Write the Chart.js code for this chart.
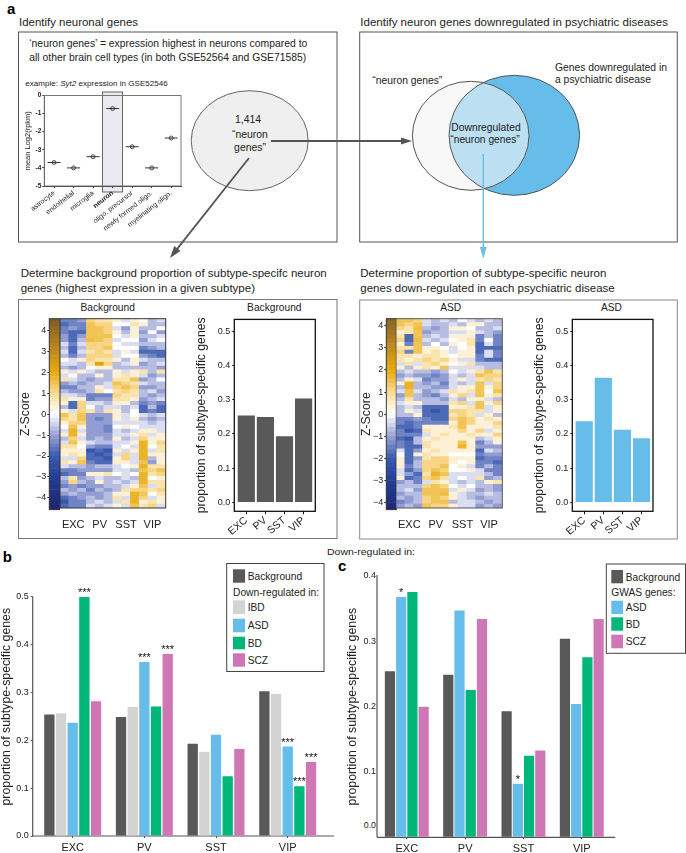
<!DOCTYPE html>
<html>
<head>
<meta charset="utf-8">
<title>Neuron subtype genes</title>
<script src="https://cdn.jsdelivr.net/npm/chart.js@4"></script>
<style>
  html, body { margin: 0; padding: 0; background: #fff; }
  #page { position: relative; width: 686px; height: 853px; overflow: hidden; }
  #page svg { position: absolute; left: 0; top: 0; }
  #page canvas { position: absolute; }
  #heatL, #heatR { filter: blur(0.4px); }
  text { font-family: "Liberation Sans", Arial, sans-serif; fill: #222; }
  .h { font-size: 11.3px; }
  .n { font-size: 10.4px; }
  .lg { font-size: 10.2px; }
  .pl { font-size: 15px; font-weight: bold; fill: #000; }
  .sub { font-size: 10.2px; }
</style>
</head>
<body>
<div id="page">
<svg width="686" height="853">
  <defs>
    <clipPath id="leftCirc"><ellipse cx="470.7" cy="135.8" rx="58.3" ry="54.5"/></clipPath>
  </defs>

  <!-- panel a boxes -->
  <rect x="18.5" y="32" width="318.5" height="210" fill="none" stroke="#555"/>
  <rect x="359.7" y="32" width="317.6" height="210" fill="none" stroke="#555"/>
  <rect x="18.5" y="299.5" width="318.5" height="239" fill="none" stroke="#777"/>
  <rect x="359.7" y="300" width="317.6" height="239" fill="none" stroke="#888"/>

  <text class="pl" x="7" y="13.5">a</text>
  <text class="pl" x="2.7" y="561.5">b</text>
  <text class="pl" x="338" y="570.5">c</text>

  <text class="h" x="19" y="26" textLength="119" lengthAdjust="spacingAndGlyphs">Identify neuronal genes</text>
  <text class="h" x="360.3" y="26" textLength="307.7" lengthAdjust="spacingAndGlyphs">Identify neuron genes downregulated in psychiatric diseases</text>
  <text class="n" x="29.3" y="46.7" textLength="278" lengthAdjust="spacingAndGlyphs">‘neuron genes’ = expression highest in neurons compared to</text>
  <text class="n" x="29.3" y="60.7" textLength="277" lengthAdjust="spacingAndGlyphs">all other brain cell types (in both GSE52564 and GSE71585)</text>
  <text x="25.3" y="86" style="font-size:7.6px" textLength="142.4" lengthAdjust="spacingAndGlyphs">example: <tspan font-style="italic">Syt2</tspan> expression in GSE52546</text>

  <!-- highlight behind the neuron column -->
  <rect x="102.5" y="92" width="20" height="100" fill="#ebebef" stroke="#666" stroke-width="1"/>

  <!-- neuron genes set -->
  <ellipse cx="249.7" cy="140.7" rx="58.5" ry="50" fill="#efefef" stroke="#666"/>
  <text class="n" x="248" y="122.5" text-anchor="middle">1,414</text>
  <text class="n" x="250" y="138" text-anchor="middle">“neuron</text>
  <text class="n" x="250" y="150.5" text-anchor="middle">genes”</text>

  <!-- venn -->
  <ellipse cx="514.3" cy="135.3" rx="65.3" ry="60" fill="#67bde9" stroke="#555"/>
  <ellipse cx="470.7" cy="135.8" rx="58.3" ry="54.5" fill="#f8f8f8"/>
  <ellipse cx="514.3" cy="135.3" rx="65.3" ry="60" fill="#bcdff2" stroke="#555" clip-path="url(#leftCirc)"/>
  <ellipse cx="470.7" cy="135.8" rx="58.3" ry="54.5" fill="none" stroke="#555"/>
  <text class="n" x="372.3" y="84" textLength="70" lengthAdjust="spacingAndGlyphs">“neuron genes”</text>
  <text class="n" x="555" y="71.3" textLength="112" lengthAdjust="spacingAndGlyphs">Genes downregulated in</text>
  <text class="n" x="555" y="83.3" textLength="96" lengthAdjust="spacingAndGlyphs">a psychiatric disease</text>
  <text class="n" x="451.3" y="131" textLength="69.4" lengthAdjust="spacingAndGlyphs">Downregulated</text>
  <text class="n" x="450.3" y="143" textLength="69.4" lengthAdjust="spacingAndGlyphs">“neuron genes”</text>

  <!-- arrows -->
  <line x1="271" y1="141" x2="402" y2="141" stroke="#555" stroke-width="1.8"/>
  <polygon points="412,141 401,137.5 401,144.5" fill="#555"/>
  <line x1="249" y1="158" x2="176" y2="250.4" stroke="#555" stroke-width="1.8"/>
  <polygon points="170,258 180.5,251 174.3,246.1" fill="#555"/>
  <line x1="483.3" y1="154" x2="483.3" y2="248" stroke="#69bfea" stroke-width="1.5"/>
  <polygon points="483.3,258.5 479.8,247 486.8,247" fill="#69bfea"/>

  <!-- row two headings -->
  <text class="h" x="20.7" y="277.3" textLength="306" lengthAdjust="spacingAndGlyphs">Determine background proportion of subtype-specifc neuron</text>
  <text class="h" x="20.7" y="291.7" textLength="234.3" lengthAdjust="spacingAndGlyphs">genes (highest expression in a given subtype)</text>
  <text class="h" x="360.3" y="277.3" textLength="246" lengthAdjust="spacingAndGlyphs">Determine proportion of subtype-specific neuron</text>
  <text class="h" x="360.3" y="291.7" textLength="254.4" lengthAdjust="spacingAndGlyphs">genes down-regulated in each psychiatric disease</text>
  <text class="sub" x="107.7" y="310.5" text-anchor="middle">Background</text>
  <text class="sub" x="274.3" y="310.5" text-anchor="middle">Background</text>
  <text class="sub" x="450.7" y="310.5" text-anchor="middle">ASD</text>
  <text class="sub" x="611.5" y="310.5" text-anchor="middle">ASD</text>

  <text x="327" y="555" style="font-size:8.2px" textLength="88" lengthAdjust="spacingAndGlyphs">Down-regulated in:</text>

  <!-- extended axis lines of panels b and c -->
  <line x1="32.7" y1="597" x2="32.7" y2="836" stroke="#555" stroke-width="1.2"/>
  <line x1="32.7" y1="836" x2="334" y2="836" stroke="#555" stroke-width="1.2"/>
  <line x1="377" y1="575" x2="377" y2="837.3" stroke="#555" stroke-width="1.2"/>
  <line x1="377" y1="837.3" x2="615.3" y2="837.3" stroke="#555" stroke-width="1.2"/>
  <text x="376" y="828" text-anchor="end" style="font-size:8.8px">0.0</text>

  <!-- legend b -->
  <rect x="226.7" y="563.5" width="97.3" height="108" fill="#fff" stroke="#444"/>
  <rect x="233" y="569.3" width="12" height="13.4" fill="#595959"/>
  <text class="lg" x="247.7" y="580">Background</text>
  <text class="lg" x="233" y="595.7" textLength="86" lengthAdjust="spacingAndGlyphs">Down-regulated in:</text>
  <rect x="233" y="600.3" width="12" height="13.7" fill="#d3d3d3"/>
  <text class="lg" x="247.7" y="611">IBD</text>
  <rect x="233" y="618.7" width="12" height="13.6" fill="#67bde9"/>
  <text class="lg" x="247.7" y="629.3">ASD</text>
  <rect x="233" y="636.7" width="12" height="12.6" fill="#00b679"/>
  <text class="lg" x="247.7" y="646.7">BD</text>
  <rect x="233" y="653.3" width="12" height="13.4" fill="#cf76b4"/>
  <text class="lg" x="247.7" y="664">SCZ</text>

  <!-- legend c -->
  <rect x="606.3" y="564" width="79.2" height="89.3" fill="#fff" stroke="#444"/>
  <rect x="611.3" y="570" width="11.7" height="13.3" fill="#595959"/>
  <text class="lg" x="625.7" y="580.7">Background</text>
  <text class="lg" x="611.3" y="596">GWAS genes:</text>
  <rect x="611.3" y="600.7" width="11.7" height="13.3" fill="#67bde9"/>
  <text class="lg" x="625.7" y="610.7">ASD</text>
  <rect x="611.3" y="617.3" width="11.7" height="13.4" fill="#00b679"/>
  <text class="lg" x="625.7" y="627.7">BD</text>
  <rect x="611.3" y="634.7" width="11.7" height="13.6" fill="#cf76b4"/>
  <text class="lg" x="625.7" y="645">SCZ</text>
</svg>

<canvas id="dot" style="left:10px;top:85px" width="180" height="160"></canvas>
<canvas id="barL" style="left:20px;top:312px" width="40" height="204"></canvas>
<canvas id="heatL" style="left:60px;top:312px" width="112" height="216"></canvas>
<canvas id="propL" style="left:190px;top:312px" width="135" height="224"></canvas>
<canvas id="barR" style="left:361px;top:312px" width="36" height="204"></canvas>
<canvas id="heatR" style="left:396px;top:312px" width="112" height="216"></canvas>
<canvas id="propR" style="left:528px;top:312px" width="135" height="224"></canvas>
<canvas id="panelB" style="left:0px;top:570px" width="338" height="283"></canvas>
<canvas id="panelC" style="left:345px;top:565px" width="275" height="288"></canvas>
</div>

<script>
// example expression plot
var cellTypes = ["astrocyte", "endothelial", "microglia", "neuron", "oligo. precursor", "newly formed oligo.", "myelinating oligo."];
var syt2Values = [-3.7, -4.0, -3.38, -0.72, -2.83, -4.0, -2.35];

// shared categories and ticks
var subtypes = ["EXC", "PV", "SST", "VIP"];
var heatColumns = ["", "EXC", "", "", "PV", "", "", "SST", "", "", "VIP", ""];
var propTicks = [0, 0.1, 0.2, 0.3, 0.4, 0.5];
var gwasTicks = [0, 0.1, 0.2, 0.3, 0.4];
var zTicks = [-4, -3, -2, -1, 0, 1, 2, 3, 4];
var zLevels = [-4.6, -4.4, -4.2, -4, -3.8, -3.6, -3.4, -3.2, -3, -2.8, -2.6, -2.4, -2.2, -2, -1.8, -1.6, -1.4, -1.2, -1, -0.8, -0.6, -0.4, -0.2, 0, 0.2, 0.4, 0.6, 0.8, 1, 1.2, 1.4, 1.6, 1.8, 2, 2.2, 2.4, 2.6, 2.8, 3, 3.2, 3.4, 3.6, 3.8, 4, 4.2, 4.4];

// panel b
var backgroundB = [0.254, 0.249, 0.193, 0.303];
var ibdB = [0.257, 0.270, 0.176, 0.297];
var asdB = [0.237, 0.364, 0.212, 0.187];
var bdB = [0.500, 0.271, 0.125, 0.104];
var sczB = [0.282, 0.381, 0.182, 0.155];
var asdStarsB = ["", "***", "", "***"];
var bdStarsB = ["***", "", "", "***"];
var sczStarsB = ["", "***", "", "***"];

// panel c
var backgroundC = [0.254, 0.249, 0.193, 0.304];
var asdC = [0.368, 0.347, 0.082, 0.204];
var bdC = [0.3755, 0.2255, 0.125, 0.2755];
var sczC = [0.200, 0.334, 0.133, 0.334];
var asdStarsC = ["*", "", "*", ""];

// heat maps, z-score per gene row, three columns per subtype
var backgroundRows = [
  [-2,-2,-1.5,1.5,1,1,.5,-.5,.5,0,-1,-.5],
  [-2.5,-2,-2,2,1.5,1.5,0,0,1,.5,-1,-1],
  [-2,-1.5,-2,2,2,1.5,-.5,-1.5,.5,-1,-1,0],
  [-2,-2.5,-2.5,2,2,1.5,.5,-1,.5,-1.5,0,-1.5],
  [-1.5,-2.5,-1.5,2,2,2,0,-.5,.5,-1,-1,-.5],
  [-1.5,-2.5,-1,2.2,2,1.5,-.5,0,0,-1.5,-.5,0],
  [-.5,-2,-.5,1.5,1.5,1.5,0,-.5,-.5,-1,-1,-1],
  [-1,-2.5,-1,1.5,1.5,2,0,0,0,-2,-1.5,-1],
  [-.5,-2.5,-.5,1,1.5,1,-.5,.5,-.5,-2.5,-2.5,-2.5],
  [-1,-2,-1,1.5,1.5,1.5,-.5,0,0,-1.5,-2,-2.5],
  [0,-.5,.5,1.5,1,1,.5,-1,.5,-.5,-1,-1],
  [-.5,-.5,-1,1,3,1.5,-1,-.5,.5,-1.5,-1,-.5],
  [-1,-1.5,-1,0,.5,.5,-1,-1,-1,-1,-1,-1.5],
  [.5,-.5,.5,-.5,-1,-1,.5,-.5,.5,1,-1,1],
  [-.5,0,-1,-1,.5,-1,.5,1,.5,-.5,-1.5,-1],
  [1,-.5,-1,-1.5,-1,-1,1,1,2,-1.5,-1,0],
  [-1.5,-1,-1.5,-1,-1,-.5,2,1.5,1,-.5,-1,-1],
  [-2,-2,-1,-1,.5,-.5,1.5,2,1.5,-1.5,-1.5,-1],
  [-1,-1.5,-1.5,-1,1,0,1,1.5,1,-1,-.5,-1.5],
  [-.5,-.5,-1,-2,-2,-2,1.5,1,1,-1,-1.5,-1],
  [1,.5,.5,-2,-1.5,-1.5,1,1,.5,-1.5,-1,-.5],
  [.5,-2.5,1.5,-.5,-.5,-1,.5,.5,-1,-2,-1.5,-2],
  [-1,-2.5,1.5,0,-1,-.5,-.5,-1,-.5,-2.5,-1,-2.5],
  [.5,-.5,1.5,1,-1,1,.5,-1,0,-2.5,-2,-2.5],
  [2,1,2,-1.5,-1.5,-1.5,.5,-.5,0,-.5,-1,-.5],
  [1.5,1,2,-1.5,-2,-1.5,.5,-.5,.5,-1,-1.5,-1],
  [.5,1.5,1.5,-1.5,-1.5,-1.5,-.5,-.5,-.5,-.5,-1,-.5],
  [0,2,.5,-1.5,-1.5,-2,0,.5,0,-.5,-.5,-.5],
  [-.5,2.5,-.5,-1.5,-1.5,-2,-.5,-1,-.5,.5,.5,-.5],
  [.5,2.5,.5,-1.5,-1.5,-1.5,-.5,-.5,.5,1,-.5,.5],
  [-1,1.5,-.5,-1.5,-1,-1.5,.5,-1,-.5,1.5,.5,.5],
  [-.5,2,.5,-.5,-1,-1,-.5,-.5,.5,2.5,.5,1.5],
  [1,1,0,-1.5,-2,-2,-.5,0,-.5,2.5,0,1],
  [.5,.5,.5,-3,-2.5,-3,.5,-.5,.5,2.5,-.5,1],
  [.5,1,.5,-2.5,-3,-2.5,-.5,1.5,-.5,2.5,.5,.5],
  [-.5,-.5,1.5,-2.5,-2.5,-3,.5,1.5,-.5,2.5,-1,.5],
  [1,.5,2,-2,-2.5,-2.5,.5,.5,-.5,2,-1.5,.5],
  [-.5,-1,-1,-1.5,-1,-1,-.5,0,.5,2.5,1,1],
  [-2,-2,-1.5,-1.5,-1.5,-1.5,-.5,-.5,-1,2,1.5,2],
  [-2.5,-2,-2,.5,.5,1,0,-.5,0,2.5,1,1.5],
  [-1,1,-1.5,-1,-.5,-1,-1,-.5,-1,2.5,0,.5],
  [-1.5,1.5,-1,-1.5,.5,-1,-.5,-1,-.5,2.5,1,1],
  [-2,-1.5,-2,-1.5,-1.5,-1,-1,-.5,.5,2,-.5,1],
  [-1,-1.5,-1,-2,-1,-1.5,-1,1,1.5,1.5,1,1.5],
  [-1.5,-1,-1.5,-1.5,-1.5,-1,.5,.5,2.5,2,0,1],
  [-2.5,-2,-1.5,-1,-1.5,-1,1,-.5,2.5,1.5,-.5,.5],
  [-3,-2,-2,-1,-.5,-1,-.5,1,2.5,.5,1,.5],
  [-2.5,-2,-2,-.5,-1,-.5,.5,-.5,2,1,1.5,-.5]
];
var asdRows = [
  [2,2,1.5,-.5,-1,-.5,-1,0,-.5,-1,-.5,-1],
  [2,1.5,2,-.5,-1,-1,-.5,-1,.5,.5,-1,-1],
  [1.5,1,2.2,-1,-1.5,-1,.5,.5,0,-1,-1,-.5],
  [.5,1,2,-1.5,-1,-1,-.5,-.5,.5,-.5,-1,-1.5],
  [1,-2.5,2,-1,-.5,-1,.5,.5,.5,-2,-1,-2],
  [1.5,-2.5,2.2,-.5,-1,-.5,0,.5,1,-2,0,-2],
  [.5,-2,2,-1,0,-1,.5,0,1,-2.5,-.5,-2],
  [1,1,2,.5,.5,0,-.5,0,.5,-2.5,-2.5,-2.5],
  [1.5,-2,2,.5,1,.5,-.5,.5,.5,-2.5,-.5,-2],
  [1,1,.5,1,1,.5,0,.5,.5,-2,-.5,-2],
  [1,.5,1,1.5,1,1.5,.5,-.5,-.5,-2,-2.5,-2.5],
  [-.5,1,-.5,1,1.5,.5,0,.5,1,-1,-1,-1],
  [.5,-1,.5,1,.5,2,-.5,-.5,-.5,-.5,-1,-1],
  [-1,-.5,-1,-1,-1.5,-1,0,-.5,.5,1,2,1],
  [-1.5,-1,-1.5,-1.5,-2,-1.5,-.5,-1,-.5,2,1.5,1.5],
  [-1,.5,-.5,-2,-1.5,-1.5,-.5,.5,-.5,1,1.5,1],
  [.5,2.5,-1,-1.5,-1,-2,-.5,-1,-.5,2,-.5,1.5],
  [-1,2.5,-1,-1,-1.5,-1.5,-.5,.5,.5,2,.5,1.5],
  [-.5,2,-.5,-1.5,-1,-.5,1,.5,1,2,0,2],
  [-1.5,2,-1,-1.5,-2,-1,.5,1.5,-.5,2,.5,1],
  [-1,1,-1,-1,-1,-1.5,-.5,-1,.5,.5,-.5,-1],
  [-.5,.5,.5,-1,-1,-1,1,1.5,-.5,2,.5,1.5],
  [-1,-.5,-1,-2.5,-2.5,-2.5,.5,.5,1,2,-.5,.5],
  [-1,.5,-.5,-2.5,-3,-2.5,1.5,1.5,1,1,-.5,.5],
  [-1,-1,.5,-2.5,-2.5,-2.5,1,1.5,1,-.5,.5,-1],
  [-2,-2,-1.5,-2,-2.5,-2.5,1.5,2,1.5,.5,1,.5],
  [-2,-2.5,-2,-2,-2,-2,.5,2,1.5,.5,.5,1.5],
  [-2.5,-2.5,-2,.5,.5,.5,1,2,.5,.5,.5,1],
  [-2,-3,-2.5,1,.5,.5,.5,1.5,.5,1.5,-.5,.5],
  [-2,-2,-2,-.5,.5,1,.5,.5,1,.5,.5,1.5],
  [-2.5,-3,-1,.5,1,.5,.5,.5,.5,-1,-.5,.5],
  [-2,-2.5,-1,1,.5,.5,.5,2,.5,-2,-1,.5],
  [-2,-2.5,-2.5,1,.5,.5,.5,2.5,.5,-1.5,-1.5,-1.5],
  [-.5,-2.5,-1.5,.5,1,.5,.5,.5,.5,-2.5,-.5,-1],
  [0,-2.5,.5,1,.5,.5,0,0,0,-2,-1.5,-1.5],
  [.5,-2.5,-1.5,1,1.5,1.5,.5,.5,.5,-2.5,-2,-2],
  [.5,-2.5,-1,1.5,1.5,1.5,.5,0,.5,-2,-2,-2.5],
  [.5,-2,-1,1.5,1.5,2,0,.5,-.5,-2,-1,-2],
  [-.5,-2.5,-1.5,1.5,2,1.5,0,0,.5,-.5,-2,-2],
  [-.5,-1.5,-2.5,1,2.5,2,-.5,-.5,-.5,-.5,-1,-2],
  [.5,-2.5,-2,1.5,2,1,-.5,0,-.5,1,-1.5,-1],
  [-1.5,-1,-2,-.5,1,.5,-.5,-1,-.5,-1,.5,1],
  [-1,-1,-1,1.5,2,1.5,0,-.5,0,-1,-1,-1.5],
  [-1,-.5,-1.5,2,2,2,-.5,.5,-.5,-1.5,-1,-1.5],
  [-1.5,-1,-1,2,2,2.2,.5,-.5,-1,-1,-.5,-1],
  [-1,-1.5,-1,1.5,2,1.5,.5,-.5,-1,-1.5,-1,-1],
  [-2,-1.5,-1,1.5,2,2,-1,-.5,-.5,-1,-1.5,-1],
  [-1.5,-1,-1.5,2,1.5,1.5,.5,-.5,-.5,-1.5,-1,-1.5]
];

var DARK = "#595959", GREY = "#d3d3d3", BLUE = "#67bde9", GREEN = "#00b679", PINK = "#cf76b4";
var INK = "#222";
var FONT = "'Liberation Sans', Arial, sans-serif";
var HEAT_SOFTEN = 0.72; // the stripes are finer than my rows, so read paler on average
Chart.defaults.font.family = FONT;
Chart.defaults.color = INK;
Chart.defaults.animation = false;
Chart.defaults.plugins.legend.display = false;
Chart.defaults.plugins.tooltip.enabled = false;

// colour ramp of the z-score bar
var zStops = [[-4.6, 27, 36, 112], [-3, 36, 62, 150], [-2, 58, 92, 176], [-1, 154, 163, 213], [0, 255, 255, 255], [1, 248, 217, 143], [2, 232, 169, 14], [3, 190, 140, 30], [4.6, 125, 90, 38]];
function zColor(z) {
  for (var i = 1; i < zStops.length; i++) {
    if (z <= zStops[i][0]) {
      var a = zStops[i - 1], b = zStops[i], t = Math.max(0, (z - a[0]) / (b[0] - a[0]));
      return "rgb(" + [1, 2, 3].map(function(k) { return Math.round(a[k] + (b[k] - a[k]) * t); }).join(",") + ")";
    }
  }
  return "rgb(125,90,38)";
}

// keeps the plot area where the figure has it
function fixLayout(canvas, area, titleX, titleSize) {
  var el = document.getElementById(canvas);
  var left = parseFloat(el.style.left), top = parseFloat(el.style.top);
  var padLeft = titleX ? titleX - titleSize * 0.6 - left : 0;
  return {
    padding: { left: padLeft, top: area.top - top, right: left + el.width - area.right, bottom: 0 },
    yWidth: area.left - left - padLeft,
    xHeight: top + el.height - area.bottom
  };
}
function fixedTicks(values) {
  return function(scale) { scale.ticks = values.map(function(v) { return { value: v }; }); };
}
function axisTitle(text, size) {
  return { display: true, text: text, color: INK, font: { size: size }, padding: 0 };
}

var framePlugin = {
  id: "frameBox",
  afterDraw: function(chart, args, opts) {
    if (!opts.color) return;
    var a = chart.chartArea, c = chart.ctx;
    c.save();
    c.strokeStyle = opts.color;
    c.lineWidth = opts.width || 1;
    c.strokeRect(a.left, a.top, a.right - a.left, a.bottom - a.top);
    c.restore();
  }
};
var starPlugin = {
  id: "stars",
  afterDatasetsDraw: function(chart) {
    var c = chart.ctx;
    c.save();
    c.font = "11px " + FONT;
    c.fillStyle = "#111";
    c.textAlign = "center";
    chart.data.datasets.forEach(function(ds, d) {
      if (!ds.stars) return;
      var bars = chart.getDatasetMeta(d).data;
      ds.stars.forEach(function(s, i) {
        if (s) c.fillText(s, bars[i].x, bars[i].y - 1);
      });
    });
    c.restore();
  }
};
Chart.register(framePlugin, starPlugin);

function drawDot() {
  var fit = fixLayout("dot", { left: 44.3, top: 95.5, right: 181, bottom: 186 }, 28.3, 7.5);
  new Chart("dot", {
    type: "line",
    data: {
      labels: cellTypes,
      datasets: [
        { data: syt2Values, showLine: false, pointStyle: "line", pointRadius: 6.5, pointBorderColor: "#333", pointBorderWidth: 1 },
        { data: syt2Values, showLine: false, pointStyle: "circle", pointRadius: 2, pointBackgroundColor: "rgba(200,200,200,.6)", pointBorderColor: "#333", pointBorderWidth: 0.8 }
      ]
    },
    options: {
      responsive: false,
      layout: { padding: fit.padding },
      plugins: { frameBox: { color: "#777" } },
      scales: {
        x: {
          offset: true,
          afterFit: function(s) { s.height = fit.xHeight; },
          border: { color: "#333" },
          grid: { drawOnChartArea: false, tickLength: 2, color: "#333" },
          ticks: {
            autoSkip: false, minRotation: 38, maxRotation: 38, padding: 1, color: INK,
            font: function(ctx) { return { size: 7, weight: ctx.index === 3 ? "bold" : "normal" }; }
          }
        },
        y: {
          min: -5, max: 0,
          afterFit: function(s) { s.width = fit.yWidth; },
          title: axisTitle("mean Log2(rpkm)", 7.5),
          border: { color: "#333" },
          grid: { drawOnChartArea: false, tickLength: 2, color: "#333" },
          ticks: { stepSize: 1, font: { size: 6.5, weight: "bold" }, padding: 1 }
        }
      }
    }
  });
}

function drawZBar(canvas, area, titleX, zMax) {
  var fit = fixLayout(canvas, area, titleX, 12.3);
  new Chart(canvas, {
    type: "bar",
    data: {
      labels: [""],
      datasets: zLevels.map(function(z) {
        return { data: [[z, z + 0.2]], backgroundColor: zColor(z + 0.1), grouped: false, barPercentage: 1, categoryPercentage: 1, inflateAmount: 0.3 };
      })
    },
    options: {
      responsive: false,
      layout: { padding: fit.padding },
      plugins: { frameBox: { color: "#333" } },
      scales: {
        x: { display: false },
        y: {
          min: -zMax, max: zMax,
          afterFit: function(s) { s.width = fit.yWidth; },
          afterBuildTicks: fixedTicks(zTicks),
          title: axisTitle("Z-Score", 12.3),
          border: { display: false },
          grid: { drawOnChartArea: false, tickLength: 2, color: "#333" },
          ticks: {
            font: { size: 9 }, padding: 1,
            callback: function(v) { return String(v).replace("-", "\u2212"); }
          }
        }
      }
    }
  });
}

function drawHeat(canvas, rows, area, frameColor) {
  var fit = fixLayout(canvas, area);
  new Chart(canvas, {
    type: "bar",
    data: {
      labels: heatColumns,
      datasets: rows.slice().reverse().map(function(row) {
        return {
          data: row.map(function() { return 1; }),
          backgroundColor: row.map(function(z) { return zColor(z * HEAT_SOFTEN); }),
          barPercentage: 1, categoryPercentage: 1, inflateAmount: 0.4
        };
      })
    },
    options: {
      responsive: false,
      layout: { padding: fit.padding },
      plugins: { frameBox: { color: frameColor } },
      scales: {
        x: {
          stacked: true,
          afterFit: function(s) { s.height = fit.xHeight; },
          border: { display: false },
          grid: { display: false },
          ticks: { autoSkip: false, maxRotation: 0, minRotation: 0, padding: 2, font: { size: 11 } }
        },
        y: { stacked: true, min: 0, max: rows.length, display: false }
      }
    }
  });
}

function drawProp(canvas, values, colour, area, titleX, centre, step) {
  var fit = fixLayout(canvas, area, titleX, 12.2);
  new Chart(canvas, {
    type: "bar",
    data: {
      datasets: [{
        data: values.map(function(v, i) { return { x: i, y: v }; }),
        backgroundColor: colour, barPercentage: 0.9, categoryPercentage: 1
      }]
    },
    options: {
      responsive: false,
      layout: { padding: fit.padding },
      plugins: { frameBox: { color: "#111", width: 1.3 } },
      scales: {
        x: {
          type: "linear", offset: false,
          min: (area.left - centre) / step, max: (area.right - centre) / step,
          afterFit: function(s) { s.height = fit.xHeight; },
          afterBuildTicks: fixedTicks([0, 1, 2, 3]),
          border: { display: false },
          grid: { drawOnChartArea: false, offset: false, tickLength: 3, color: "#111" },
          ticks: {
            autoSkip: false, minRotation: 40, maxRotation: 40, padding: 0, font: { size: 10.5 },
            callback: function(v) { return subtypes[v]; }
          }
        },
        y: {
          min: -0.0258, max: 0.534,
          afterFit: function(s) { s.width = fit.yWidth; },
          afterBuildTicks: fixedTicks(propTicks),
          title: axisTitle("proportion of subtype-specific genes", 12.2),
          border: { display: false },
          grid: { drawOnChartArea: false, tickLength: 2, color: "#111" },
          ticks: { font: { size: 9 }, padding: 2, callback: function(v) { return v.toFixed(1); } }
        }
      }
    }
  });
}

function series(values, colour, stars, barPct, catPct) {
  return {
    data: values.map(function(v, i) { return { x: i, y: v }; }),
    backgroundColor: colour, stars: stars, barPercentage: barPct, categoryPercentage: catPct
  };
}

function drawGroups(canvas, datasets, area, titleX, centre, step, yMax, ticks, tickLength, hideZero) {
  var fit = fixLayout(canvas, area, titleX, 12.3);
  new Chart(canvas, {
    type: "bar",
    data: { datasets: datasets },
    options: {
      responsive: false,
      layout: { padding: fit.padding },
      scales: {
        x: {
          type: "linear", offset: false,
          min: (area.left - centre) / step, max: (area.right - centre) / step,
          afterFit: function(s) { s.height = fit.xHeight; },
          afterBuildTicks: fixedTicks([0, 1, 2, 3]),
          border: { display: false },
          grid: { drawOnChartArea: false, offset: false, tickLength: 2, color: "#555" },
          ticks: { autoSkip: false, maxRotation: 0, padding: 3, font: { size: 11 }, callback: function(v) { return subtypes[v]; } }
        },
        y: {
          min: 0, max: yMax,
          afterFit: function(s) { s.width = fit.yWidth; },
          afterBuildTicks: fixedTicks(ticks),
          title: axisTitle("proportion of subtype-specific genes", 12.3),
          border: { display: false },
          grid: { drawOnChartArea: false, drawTicks: tickLength > 0, tickLength: tickLength, color: "#555" },
          ticks: {
            font: { size: 9 }, padding: tickLength > 0 ? 2 : 1,
            callback: function(v) { return hideZero && v === 0 ? "" : v.toFixed(1); }
          }
        }
      }
    }
  });
}

drawDot();
drawZBar("barL", { left: 49.3, top: 318.7, right: 60, bottom: 508 }, 26, 4.56);
drawHeat("heatL", backgroundRows, { left: 64, top: 318.7, right: 165.7, bottom: 508 }, "#333");
drawProp("propL", backgroundB, DARK, { left: 234.3, top: 316, right: 315.3, bottom: 511.3 }, 201.7, 246.3, 19.1);
drawZBar("barR", { left: 386.3, top: 318.7, right: 396.3, bottom: 508 }, 367, 4.32);
drawHeat("heatR", asdRows, { left: 400.3, top: 318.7, right: 502.3, bottom: 508 }, "#555");
drawProp("propR", asdB, BLUE, { left: 572.3, top: 316, right: 653, bottom: 511.3 }, 540, 584.2, 19.1);

drawGroups("panelB", [
  series(backgroundB, DARK, null, 0.885, 0.814),
  series(ibdB, GREY, null, 0.885, 0.814),
  series(asdB, BLUE, asdStarsB, 0.885, 0.814),
  series(bdB, GREEN, bdStarsB, 0.885, 0.814),
  series(sczB, PINK, sczStarsB, 0.885, 0.814)
], { left: 32.7, top: 577.4, right: 334, bottom: 836 }, 6.7, 72.7, 71.67, 0.541, propTicks, 2, false);

drawGroups("panelC", [
  series(backgroundC, DARK, null, 0.91, 0.77),
  series(asdC, BLUE, asdStarsC, 0.91, 0.77),
  series(bdC, GREEN, null, 0.91, 0.77),
  series(sczC, PINK, null, 0.91, 0.77)
], { left: 377, top: 576, right: 615.3, bottom: 837.3 }, 353, 406.8, 58.33, 0.4, gwasTicks, 0, true);
</script>
</body>
</html>
